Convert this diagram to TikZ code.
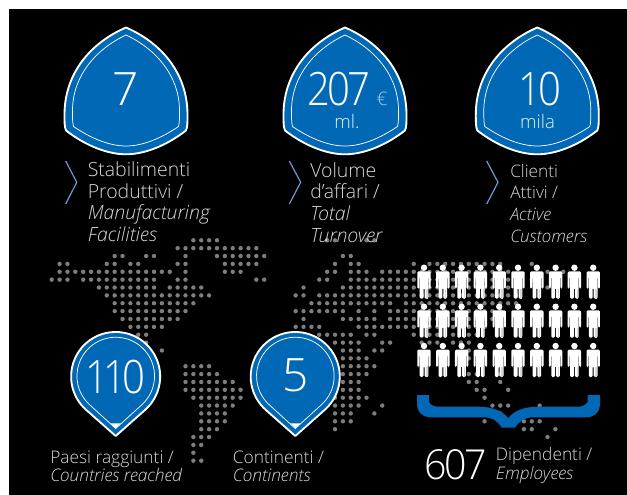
\documentclass[tikz,border=0pt]{standalone}
\usepackage{graphicx}
\usepackage{fontspec}
\setmainfont{Open Sans Light}[ItalicFont={Open Sans Light Italic},BoldFont={Open Sans}]
\definecolor{bluefill}{HTML}{0068B4}
\definecolor{dotgray}{HTML}{7E7E7E}
\definecolor{txtgray}{HTML}{D8D8D8}
\definecolor{chev}{HTML}{6A9AD0}
\newcommand{\blockA}{\fontsize{14.6pt}{16.3pt}\selectfont}
\newcommand{\blockC}{\fontsize{12.9pt}{16.3pt}\selectfont}
\newcommand{\blockB}{\fontsize{13pt}{13.1pt}\selectfont}
\newcommand{\blockD}{\fontsize{13pt}{13.7pt}\selectfont}
\newcommand{\bignum}{\fontsize{34.5pt}{36pt}\selectfont\addfontfeatures{LetterSpace=-7}}
\newcommand{\tightnum}{\fontsize{34.5pt}{36pt}\selectfont\addfontfeatures{LetterSpace=-11}}
\newcommand{\narrow}[1]{\scalebox{.87}[1]{#1}}
\newcommand{\shieldat}[1]{%
  \begin{scope}[shift={(#1,0)}]
    \path[shieldout] (0,27.5) .. controls (-38,44) and (-62,76) .. (-61.5,116)
      .. controls (-61.5,122) and (-61.5,127) .. (-60,130.5)
      .. controls (-40,146) and (-18,154.3) .. (0,154.3)
      .. controls (18,154.3) and (40,146) .. (60,130.5)
      .. controls (61.5,127) and (61.5,122) .. (61.5,116)
      .. controls (62,76) and (38,44) .. (0,27.5) -- cycle;
    \path[shieldin] (0,35) .. controls (-32,50) and (-54,78) .. (-53.5,112)
      .. controls (-53.5,118) and (-53.5,123) .. (-52.5,126.5)
      .. controls (-34,139) and (-16,146) .. (0,146)
      .. controls (16,146) and (34,139) .. (52.5,126.5)
      .. controls (53.5,123) and (53.5,118) .. (53.5,112)
      .. controls (54,78) and (32,50) .. (0,35) -- cycle;
  \end{scope}}
\newcommand{\pinat}[1]{%
  \begin{scope}[shift={(#1,0)}]
    \path[shieldout] (29.5,409.8) arc[start angle=-48.4,end angle=228.4,radius=33.4pt] -- (0,436) -- cycle;
    \path[shieldin] (26.2,404.7) arc[start angle=-47.6,end angle=227.6,radius=29.1pt] -- (0,428.5) -- cycle;
    \fill[white] (-5,423.3) -- (5,423.3) -- (0,428.5) -- cycle;
  \end{scope}}
\tikzset{
  x=0.75pt,y=-0.75pt,
  shieldout/.style={fill=bluefill,draw=white,line width=1.4pt,line join=round},
  shieldin/.style={draw=white,line width=0.55pt,line join=round},
  chevron/.style={draw=chev,line width=0.9pt},
  numtext/.style={text=white,inner sep=0pt,font=\bignum},
  tightnumtext/.style={text=white,inner sep=0pt,font=\tightnum},
  unit/.style={text=white!90!bluefill,inner sep=0pt,font=\fontsize{14pt}{16pt}\selectfont},
  labelA/.style={text=txtgray,inner sep=0pt,anchor=north west,align=left,font=\blockA},
  labelC/.style={text=txtgray,inner sep=0pt,anchor=north west,align=left,font=\blockC},
  labelB/.style={text=txtgray,inner sep=0pt,anchor=north west,align=left,font=\blockB},
  labelD/.style={text=txtgray,inner sep=0pt,anchor=north west,align=left,font=\blockD},
}
\begin{document}
\begin{tikzpicture}
\useasboundingbox (0,0) rectangle (627,495);
\fill[white] (0,0) rectangle (627,495);
\fill[black] (9,9) rectangle (627,495);
% dotted world map
\foreach \r/\cols in {
 0/{18,19,20,21,35,36,40,41},
 1/{16,17,...,26},
 2/{8,9,12,13,17,21,22,...,27,37,38},
 3/{1,2,7,8,10,11,16,17,22,23,...,26,36,38,39,46,48,49,...,57,61},
 4/{1,2,...,15,17,22,23,24,35,36,38,39,40,42,43,...,58,63,65},
 5/{0,1,2,4,5,...,13,16,17,26,27,34,35,38,39,...,59,61},
 6/{6,7,...,13,15,16,...,19,32,37,38,...,59,63},
 7/{7,8,...,20,31,32,34,35,...,59},
 8/{8,9,...,18,33,34,...,43,45,46,...,59},
 9/{8,9,...,17,31,32,...,37,39,41,43,44,...,57},
 10/{9,10,...,16,32,37,38,...,41,43,44,45,46,48,49,...,56},
 11/{10,11,...,14,31,32,33,34,39,40,...,46,48,49,...,55},
 12/{11,12,34,35,...,38,40,41,46,48,49,51,53,54},
 13/{12,36,37,38,39,42,43,47,48,49,51,52,53},
 14/{14,37,38,39,41,42,53},
 15/{37,38,39,40,53},
 16/{17,18,19,20,37,38,...,41},
 17/{17,18,...,21,37,38,39,40,53,54,57},
 18/{17,18,...,23,37,38,39,53,54,57},
 19/{17,18,...,24,37,38,39,54,55,58},
 20/{18,19,...,24,36,37,...,40,55},
 21/{19,20,...,23,36,37,38,39,42,56,57,58,62},
 22/{19,20,21,22,36,37,38,41,57},
 23/{19,20,21,22,36,37,38,55,60,61,62},
 24/{19,20,21,36,60,61,64},
 25/{18,19,20,63},
 26/{18,19},
 27/{18},
 28/{18,19}}{
  \foreach \i in \cols {
    \fill[dotgray] ({51.7+7.87*\i},{240.3+7.87*\r}) circle (1.65pt);
  }
}
% shields
\shieldat{126}
\shieldat{345}
\shieldat{537.3}
\node[numtext] (n7) at (126,89) {7};
\node[numtext] (n207) at (338.7,89) {\narrow{207}};
\node[text=white!65!bluefill,inner sep=0pt,font=\fontsize{14pt}{16pt}\selectfont] (neuro) at (382,98.5) {€};
\node[unit,anchor=base] (nml) at (347,128.3) {ml.};
\node[numtext] (n10) at (539.7,89) {\narrow{10}};
\node[unit,anchor=base] (nmila) at (537.5,128.3) {mila};
% chevrons
\draw[chevron] (65.7,161) -- (76.7,182.3) -- (65.7,204);
\draw[chevron] (289.3,161) -- (300.7,182.3) -- (289.3,204);
\draw[chevron] (486.7,161) -- (498,182.3) -- (486.7,204);
% top labels
\node[labelA] (t1) at (87.5,161.3) {Stabilimenti\\Produttivi /\\\textit{Manufacturing}\\\textit{Facilities}};
\node[labelA] (t2) at (310,162) {Volume\\d’affari /\\\textit{Total}\\\textit{Turnover}};
\node[labelC] (t3) at (510,163.7) {Clienti\\Attivi /\\\textit{Active}\\\textit{Customers}};
% people
\foreach \py in {267.7,306.7,346}{
 \foreach \c in {0,1,...,9}{
  \begin{scope}[shift={({424+18.8*\c},\py)}]
   \fill[white] (0,0) circle (2.4pt);
   \fill[white,rounded corners=1pt] (-6.7,21) -- (-6.7,3.6) -- (6.7,3.6) -- (6.7,21) -- (4.8,21) -- (4.8,9) -- (4.3,9) -- (4.3,31) -- (0.5,31) -- (0.5,20) -- (-0.5,20) -- (-0.5,31) -- (-4.3,31) -- (-4.3,9) -- (-4.8,9) -- (-4.8,21) -- cycle;
   \fill[white!85!black] (2.2,21) rectangle (3.6,31);
  \end{scope}
 }
}
% pins
\pinat{115.7}
\pinat{295.3}
\node[tightnumtext] (n110) at (115.3,377) {\narrow{110}};
\node[numtext] (n5) at (295.7,375) {5};
% brace
\fill[bluefill] (417,395) -- (417,405) .. controls (417,412) and (423,417.3) .. (430,417.3)
  -- (483.3,417.3) .. controls (492,417.3) and (498,421) .. (501.7,427.7) -- (515,427.7)
  .. controls (519,421) and (525,417.3) .. (533.3,417.3) -- (586.7,417.3)
  .. controls (594,417.3) and (600,412) .. (600,405) -- (600,395) -- (587.7,395) -- (587.7,401.7)
  .. controls (586,405) and (582,406.7) .. (578.3,406.7) -- (538.3,406.7)
  .. controls (524,406.7) and (513,411) .. (508.3,418.3)
  .. controls (503,411) and (492,406.7) .. (478.3,406.7) -- (438.3,406.7)
  .. controls (434,406.7) and (430,405) .. (429,401.7) -- (429,395) -- cycle;
% bottom labels
\node[labelB] (b1) at (50,451) {Paesi raggiunti /\\\textit{Countries reached}};
\node[labelB] (b2) at (232.7,451) {Continenti /\\\textit{Continents}};
\node[text=white,inner sep=0pt,anchor=base west,font=\fontsize{31pt}{33pt}\selectfont\addfontfeatures{LetterSpace=-6}] (n607) at (424,479) {\scalebox{.95}[1]{607}};
\node[labelD] (b3) at (495.7,447.5) {Dipendenti /\\\textit{Employees}};
\end{tikzpicture}
\end{document}
